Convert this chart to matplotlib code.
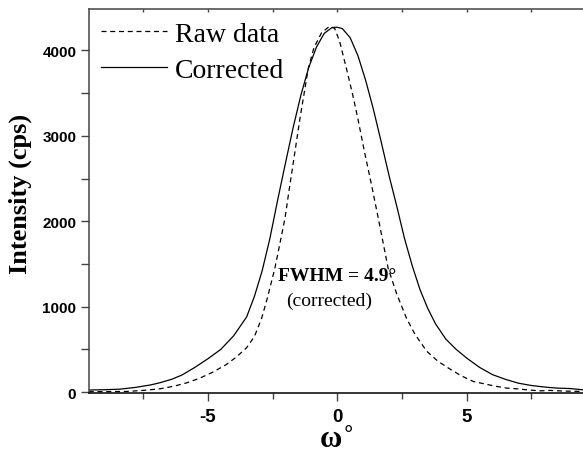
import numpy as np
import matplotlib
matplotlib.use('Agg')
from matplotlib import pyplot as plt
from matplotlib.ticker import MultipleLocator

plt.rcParams['axes.unicode_minus'] = False

# Datos (omega en graos, intensidade en cps)
x_cor = [-9.6, -9.0, -8.4, -7.8, -7.2, -6.85, -6.4, -6.0, -5.5, -5.0, -4.5,
         -4.0, -3.5, -3.2, -2.9, -2.6, -2.3, -2.0, -1.7, -1.4, -1.1, -0.8,
         -0.5, -0.2, 0.0, 0.2, 0.5, 0.8, 1.1, 1.4, 1.7, 2.0, 2.3,
         2.6, 2.9, 3.2, 3.5, 3.8, 4.2, 4.6, 5.0, 5.5, 6.0, 6.5,
         7.0, 7.5, 8.0, 8.5, 9.0, 9.5]
y_cor = [25, 28, 35, 55, 85, 110, 150, 200, 290, 390, 500,
         660, 880, 1120, 1420, 1800, 2250, 2680, 3100, 3480, 3800, 4040,
         4200, 4268, 4272, 4255, 4150, 3940, 3650, 3310, 2930, 2540, 2180,
         1800, 1480, 1200, 980, 800, 620, 500, 400, 290, 205, 150,
         105, 78, 60, 47, 42, 27]

x_raw = [-9.6, -9.0, -8.14, -7.5, -6.85, -6.3, -5.8, -5.3, -4.8, -4.3, -3.9,
         -3.5, -3.2, -2.92, -2.7, -2.41, -2.2, -2.02, -1.83, -1.6, -1.44, -1.12,
         -0.9, -0.6, -0.3, -0.1, 0.1, 0.36, 0.6, 0.8, 1.05, 1.33, 1.59,
         1.97, 2.3, 2.68, 3.0, 3.46, 3.9, 4.36, 4.8, 5.26, 5.64, 6.1,
         6.55, 6.94, 7.4, 7.84, 8.22, 8.8, 9.5]
y_raw = [5, 6, 8, 20, 39, 70, 110, 165, 235, 320, 410,
         520, 650, 864, 1100, 1449, 1760, 2033, 2422, 2880, 3201, 3785,
         4030, 4210, 4280, 4260, 4100, 3785, 3480, 3201, 2820, 2422, 2033,
         1449, 1150, 864, 680, 479, 360, 270, 190, 125, 100, 70,
         47, 39, 25, 15, 20, 12, 8]

xt = [-5, 0, 5]
yt = [0, 1000, 2000, 3000, 4000]

fig = plt.figure(figsize=(5.83, 4.56), dpi=100)
ax = fig.add_axes([0.1523, 0.136, 0.8477, 0.843])

ax.plot(x_raw, y_raw, color='black', lw=0.9, ls=(0, (4, 3)), label='Raw data')
ax.plot(x_cor, y_cor, color='black', lw=0.9, label='Corrected')

ax.set_xlim(-9.6, 9.5)
ax.set_ylim(-10, 4490)
ax.set_xticks(xt)
ax.set_yticks(yt)
ax.xaxis.set_minor_locator(MultipleLocator(2.5))
ax.yaxis.set_minor_locator(MultipleLocator(500))
ax.tick_params(axis='both', which='both', direction='out', color='#444444')
ax.tick_params(axis='both', which='major', length=6, width=1)
ax.tick_params(axis='x', which='minor', length=4, width=1)
ax.tick_params(axis='y', which='minor', length=6, width=1)
for lab in ax.get_xticklabels():
    lab.set_fontfamily('Liberation Sans')
    lab.set_fontweight('bold')
    lab.set_fontsize(13.5)
for lab in ax.get_yticklabels():
    lab.set_fontfamily('Liberation Sans')
    lab.set_fontweight('bold')
    lab.set_fontsize(11)
ax.tick_params(axis='x', pad=5)
ax.tick_params(axis='y', pad=3)

ax.spines['right'].set_visible(False)
for s in ['left', 'bottom', 'top']:
    ax.spines[s].set_linewidth(1.1)
ax.spines['left'].set_color('#444444')
ax.spines['top'].set_color('#444444')

top = ax.secondary_xaxis('top')
top.set_xticks([-7.5, -5, -2.5, 0, 2.5, 5, 7.5])
top.tick_params(direction='in', length=2, width=1, labeltop=False, color='#444444')
top.spines['top'].set_visible(False)

ax.set_ylabel('Intensity (cps)', family='Liberation Serif', fontweight='bold',
              fontsize=19)
ax.yaxis.set_label_coords(-0.115, 0.52)
ax.set_xlabel(r'ω$^{\circ}$', family='Liberation Serif', fontweight='bold', fontsize=22,
              labelpad=0)

ax.text(0.0, 1360, 'FWHM = 4.9°', ha='center', va='center',
        family='Liberation Serif', fontweight='bold', fontsize=14)
ax.text(-0.3, 1080, '(corrected)', ha='center', va='center',
        family='Liberation Serif', fontsize=14)

leg = ax.legend(loc='upper left', frameon=False, prop={'family': 'Liberation Serif', 'size': 20},
                handlelength=2.35, handletextpad=0.3, labelspacing=0.4,
                borderaxespad=0.15, borderpad=0.3)

fig.savefig('out.png', dpi=100)
